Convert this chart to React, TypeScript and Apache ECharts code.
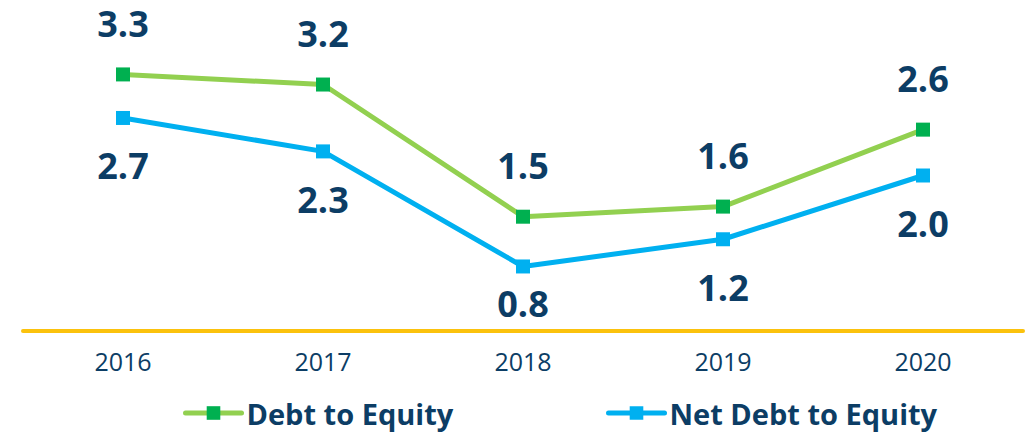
import React, { useEffect, useRef } from "react";
import * as echarts from "echarts";

const years = ["2016", "2017", "2018", "2019", "2020"];
const debtToEquity = [3.3, 3.17, 1.47, 1.6, 2.59];
const netDebtToEquity = [2.74, 2.31, 0.83, 1.18, 2.0];

const NAVY = "#0c3d65";
const FONT = "'Open Sans', sans-serif";

export default function App() {
  const ref = useRef<HTMLDivElement>(null);
  useEffect(() => {
    if (!ref.current) return;
    const chart = echarts.init(ref.current, undefined, { renderer: "svg" });
    const legendCommon = {
      top: 396,
      itemWidth: 56,
      itemHeight: 17,
      itemGap: 0,
      padding: [0, 0, 0, 0],
      lineStyle: { width: 5, cap: "round" },
      textStyle: {
        color: NAVY,
        fontFamily: FONT,
        fontWeight: "bold",
        fontSize: 29,
        lineHeight: 34,
      },
    };
    chart.setOption({
      animation: false,
      backgroundColor: "#ffffff",
      grid: { left: 23, right: 13, top: 20, bottom: 105 },
      xAxis: {
        type: "category",
        data: years,
        boundaryGap: true,
        axisLine: { show: true, lineStyle: { color: "#fbc20d", width: 4 } },
        axisTick: { show: false },
        axisLabel: {
          color: NAVY,
          fontFamily: FONT,
          fontSize: 25,
          margin: 17,
        },
      },
      yAxis: {
        type: "value",
        min: 0,
        max: 4,
        show: false,
        splitLine: { show: false },
      },
      legend: [
        { ...legendCommon, left: 183, data: ["Debt to Equity"] },
        { ...legendCommon, left: 606, data: ["Net Debt to Equity"] },
      ],
      labelLayout: (params: any) => {
        const r = params.labelRect;
        const limit = 321;
        if (r && r.y + r.height > limit) {
          return { dy: limit - (r.y + r.height) };
        }
        return {};
      },
      series: [
        {
          name: "Debt to Equity",
          type: "line",
          data: debtToEquity,
          symbol: "rect",
          symbolSize: 14,
          lineStyle: { color: "#92d050", width: 5 },
          itemStyle: { color: "#00b050" },
          label: {
            show: true,
            position: "top",
            distance: 26,
            color: NAVY,
            fontFamily: FONT,
            fontWeight: "bold",
            fontSize: 36,
            formatter: (p: any) => p.value.toFixed(1),
          },
        },
        {
          name: "Net Debt to Equity",
          type: "line",
          data: netDebtToEquity,
          symbol: "rect",
          symbolSize: 14,
          lineStyle: { color: "#00b0f0", width: 5 },
          itemStyle: { color: "#00b0f0" },
          label: {
            show: true,
            position: "bottom",
            distance: 23,
            color: NAVY,
            fontFamily: FONT,
            fontWeight: "bold",
            fontSize: 36,
            formatter: (p: any) => p.value.toFixed(1),
          },
        },
      ],
    });
    return () => chart.dispose();
  }, []);
  return (
    <div
      ref={ref}
      style={{ position: "absolute", left: 0, top: 0, width: 1036, height: 436 }}
    />
  );
}
